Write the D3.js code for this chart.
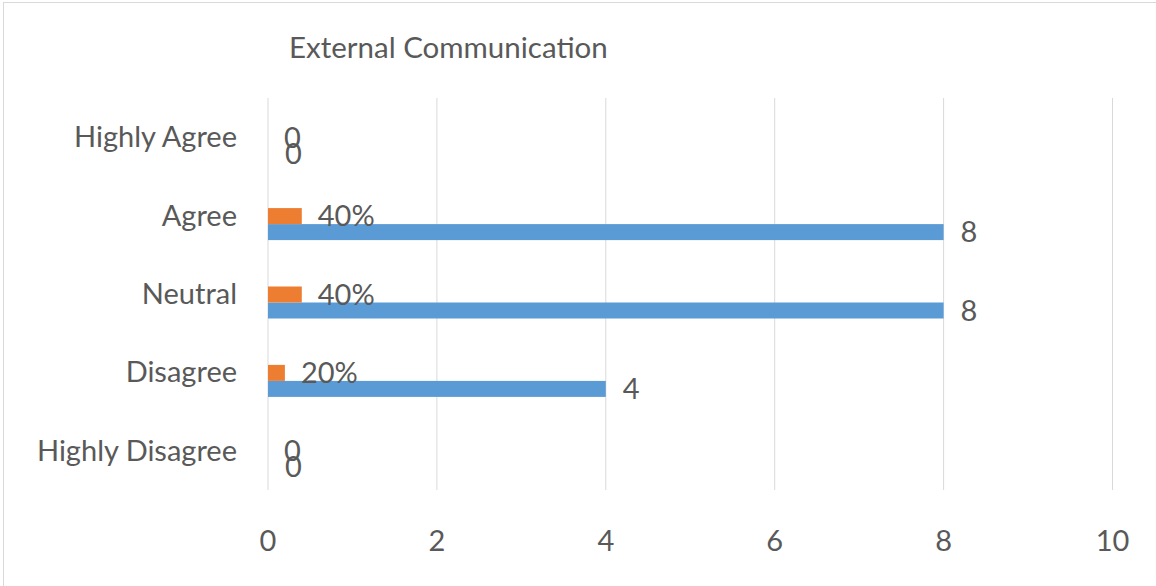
<!DOCTYPE html>
<html>
<head>
<meta charset="utf-8">
<script src="https://cdn.jsdelivr.net/npm/d3@7/dist/d3.min.js"></script>
<style>
  html, body { margin: 0; padding: 0; background: #fff; }
  svg { display: block; font-family: Lato, "Open Sans", sans-serif; }
</style>
</head>
<body>
<svg id="chart" width="1156" height="586"></svg>
<script>
// Survey responses for "External Communication"
const categories = ["Highly Agree", "Agree", "Neutral", "Disagree", "Highly Disagree"];
const counts = [0, 8, 8, 4, 0];            // number of respondents
const shares = [0, 0.4, 0.4, 0.2, 0];      // share of respondents
const xTicks = [0, 2, 4, 6, 8, 10];
const title = "External Communication";

const svg = d3.select("#chart");
const textColor = "#595959";
const fontSize = 29;

// outer frame
svg.append("rect")
  .attr("x", 3.5).attr("y", 2.5)
  .attr("width", 1200).attr("height", 700)
  .attr("fill", "none").attr("stroke", "#d9d9d9").attr("stroke-width", 1);

const plot = { left: 268, right: 1112.5, top: 98, bottom: 490 };

const x = d3.scaleLinear().domain([0, 10]).range([plot.left, plot.right]);
const y = d3.scaleBand().domain(categories).range([plot.top, plot.bottom]);
const bw = y.bandwidth();
// two bars per category: share on top, count below
const ySub = d3.scaleBand().domain(["share", "count"]).range([bw / 2 - 7.5, bw / 2 + 24.5]);

// vertical gridlines
svg.append("g").selectAll("line").data(xTicks).join("line")
  .attr("x1", d => x(d)).attr("x2", d => x(d))
  .attr("y1", plot.top).attr("y2", plot.bottom)
  .attr("stroke", "#d9d9d9").attr("stroke-width", 1);

// x tick labels
svg.append("g").selectAll("text").data(xTicks).join("text")
  .attr("x", d => x(d)).attr("y", 551)
  .attr("text-anchor", "middle")
  .attr("font-size", fontSize).attr("fill", textColor)
  .text(d => d);

// category labels
svg.append("g").selectAll("text").data(categories).join("text")
  .attr("x", 237).attr("y", d => y(d) + bw / 2 + 10)
  .attr("text-anchor", "end")
  .attr("font-size", fontSize).attr("fill", textColor)
  .text(d => d);

const rows = categories.map((c, i) => ({ cat: c, count: counts[i], share: shares[i] }));

// count bars
svg.append("g").selectAll("rect").data(rows).join("rect")
  .attr("x", x(0))
  .attr("y", d => y(d.cat) + ySub("count"))
  .attr("width", d => x(d.count) - x(0))
  .attr("height", ySub.bandwidth())
  .attr("fill", "#5b9bd5");

// share bars
svg.append("g").selectAll("rect").data(rows).join("rect")
  .attr("x", x(0))
  .attr("y", d => y(d.cat) + ySub("share"))
  .attr("width", d => x(d.share) - x(0))
  .attr("height", ySub.bandwidth())
  .attr("fill", "#ed7d31");

const pct = d3.format(".0%");

// value labels
svg.append("g").selectAll("text").data(rows).join("text")
  .attr("x", d => x(d.count) + 17)
  .attr("y", d => y(d.cat) + ySub("count") + ySub.bandwidth() / 2 + 10)
  .attr("font-size", fontSize).attr("fill", textColor)
  .text(d => d.count);

svg.append("g").selectAll("text").data(rows).join("text")
  .attr("x", d => x(d.share) + 16)
  .attr("y", d => y(d.cat) + ySub("share") + ySub.bandwidth() / 2 + 10)
  .attr("font-size", fontSize).attr("fill", textColor)
  .text(d => d.share === 0 ? "0" : pct(d.share));

// title
svg.append("text")
  .attr("x", 289).attr("y", 58)
  .attr("font-size", 29.5).attr("fill", textColor)
  .text(title);
</script>
</body>
</html>
